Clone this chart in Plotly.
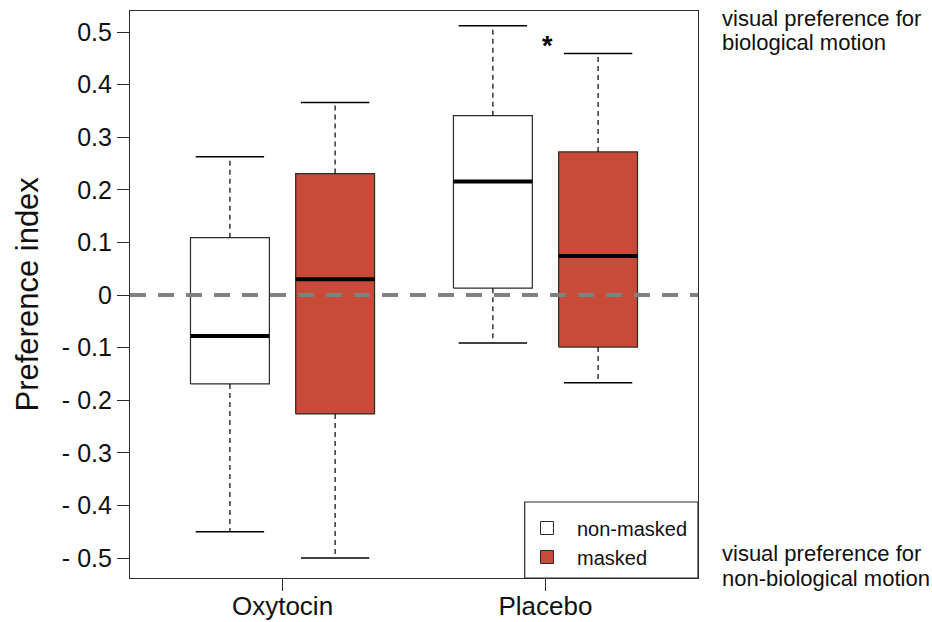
import plotly.graph_objects as go

# ---- data ----
groups = ["Oxytocin", "Placebo"]
conditions = ["non-masked", "masked"]

nm_lower = [-0.450, -0.091]
nm_q1 = [-0.169, 0.013]
nm_median = [-0.078, 0.216]
nm_q3 = [0.109, 0.341]
nm_upper = [0.263, 0.512]

m_lower = [-0.500, -0.167]
m_q1 = [-0.226, -0.099]
m_median = [0.030, 0.074]
m_q3 = [0.231, 0.272]
m_upper = [0.366, 0.459]

y_tick_vals = [-0.5, -0.4, -0.3, -0.2, -0.1, 0, 0.1, 0.2, 0.3, 0.4, 0.5]
y_tick_text = ["- 0.5", "- 0.4", "- 0.3", "- 0.2", "- 0.1", "0",
               "0.1", "0.2", "0.3", "0.4", "0.5"]

top_note = ["visual preference for", "biological motion"]
bottom_note = ["visual preference for", "non-biological motion"]

colors = {"non-masked": "#FFFFFF", "masked": "#C84B3A"}
offsets = {"non-masked": -0.2, "masked": 0.2}
box_w = 0.30
cap_w = 0.13
FONT = "Liberation Sans, Arial, sans-serif"
BORDER = "#2b2b2b"

series = {
    "non-masked": (nm_lower, nm_q1, nm_median, nm_q3, nm_upper),
    "masked": (m_lower, m_q1, m_median, m_q3, m_upper),
}

fig = go.Figure()

for cond in conditions:
    lo, q1, med, q3, up = series[cond]
    for gi, g in enumerate(groups):
        xc = gi + 1 + offsets[cond]
        l, r = xc - box_w / 2, xc + box_w / 2
        # box body
        fig.add_trace(go.Scatter(
            x=[l, r, r, l, l], y=[q1[gi], q1[gi], q3[gi], q3[gi], q1[gi]],
            mode="lines", fill="toself", fillcolor=colors[cond],
            line=dict(color=BORDER, width=1.2), showlegend=False, hoverinfo="skip"))
        # median
        fig.add_trace(go.Scatter(
            x=[l, r], y=[med[gi], med[gi]], mode="lines",
            line=dict(color="#000000", width=4), showlegend=False, hoverinfo="skip"))
        # whiskers (dashed)
        fig.add_trace(go.Scatter(
            x=[xc, xc, None, xc, xc], y=[q3[gi], up[gi], None, q1[gi], lo[gi]],
            mode="lines", line=dict(color="#000000", width=1.2, dash="5px,4px"),
            showlegend=False, hoverinfo="skip"))
        # caps
        fig.add_trace(go.Scatter(
            x=[xc - cap_w, xc + cap_w, None, xc - cap_w, xc + cap_w],
            y=[up[gi], up[gi], None, lo[gi], lo[gi]],
            mode="lines", line=dict(color="#000000", width=1.5),
            showlegend=False, hoverinfo="skip"))

# zero reference line
fig.add_trace(go.Scatter(
    x=[0.42, 2.58], y=[0, 0], mode="lines",
    line=dict(color="#808080", width=4, dash="16px,12px"),
    showlegend=False, hoverinfo="skip"))

# legend entries
for cond in conditions:
    fig.add_trace(go.Scatter(
        x=[None], y=[None], mode="markers", name=cond,
        marker=dict(symbol="square", size=13, color=colors[cond],
                    line=dict(color=BORDER, width=1))))

# legend frame
fig.add_shape(type="rect", xref="paper", yref="paper",
              x0=(524 - 130) / 567, x1=1.0, y0=0, y1=(578 - 502) / 567,
              line=dict(color=BORDER, width=1.2), fillcolor="white", layer="above")

# significance asterisk
fig.add_annotation(x=2.0, y=0.48, xref="x", yref="y", text="<b>*</b>",
                   showarrow=False, font=dict(size=27, family=FONT, color="#000"),
                   yshift=-3, xshift=2)

# right side texts (one annotation per line)
note_x = (720 - 130) / 568
for i, line in enumerate(top_note):
    fig.add_annotation(xref="paper", yref="paper", x=note_x, y=(578 - (18 + 24 * i)) / 567,
                       xanchor="left", yanchor="middle", align="left", showarrow=False,
                       text=line, font=dict(size=22, family=FONT, color="#111"))
for i, line in enumerate(bottom_note):
    fig.add_annotation(xref="paper", yref="paper", x=note_x, y=(578 - (553 + 25 * i)) / 567,
                       xanchor="left", yanchor="middle", align="left", showarrow=False,
                       text=line, font=dict(size=22, family=FONT, color="#111"))

# y axis title
fig.add_annotation(xref="paper", yref="paper", x=(27 - 130) / 568, y=0.5,
                   xanchor="center", yanchor="middle", textangle=-90, showarrow=False,
                   text="Preference index", font=dict(size=31, family=FONT, color="#111"))

fig.update_layout(
    width=932, height=622,
    margin=dict(l=130, r=234, t=11, b=44),
    paper_bgcolor="white", plot_bgcolor="white",
    font=dict(family=FONT, color="#111"),
    legend=dict(x=(693 - 130) / 568, xanchor="right", y=1.5 / 567, yanchor="bottom",
                bgcolor="rgba(0,0,0,0)", borderwidth=0,
                font=dict(size=20, family=FONT, color="#111"),
                itemwidth=50, tracegroupgap=0),
    xaxis=dict(range=[0.42, 2.58], tickvals=[1, 2], ticktext=groups,
               showgrid=False, zeroline=False, showline=True, mirror=True,
               linecolor=BORDER, linewidth=1.2, ticks="outside", ticklen=12,
               tickcolor=BORDER, automargin=False, ticklabelstandoff=-7,
               tickfont=dict(size=26, family=FONT, color="#111")),
    yaxis=dict(range=[-0.538, 0.540], tickvals=y_tick_vals, ticktext=y_tick_text,
               showgrid=False, zeroline=False, showline=True, mirror=True,
               linecolor=BORDER, linewidth=1.2, ticks="outside", ticklen=12,
               tickcolor=BORDER, automargin=False,
               tickfont=dict(size=25, family=FONT, color="#111")),
)

fig.write_html("out.html")
